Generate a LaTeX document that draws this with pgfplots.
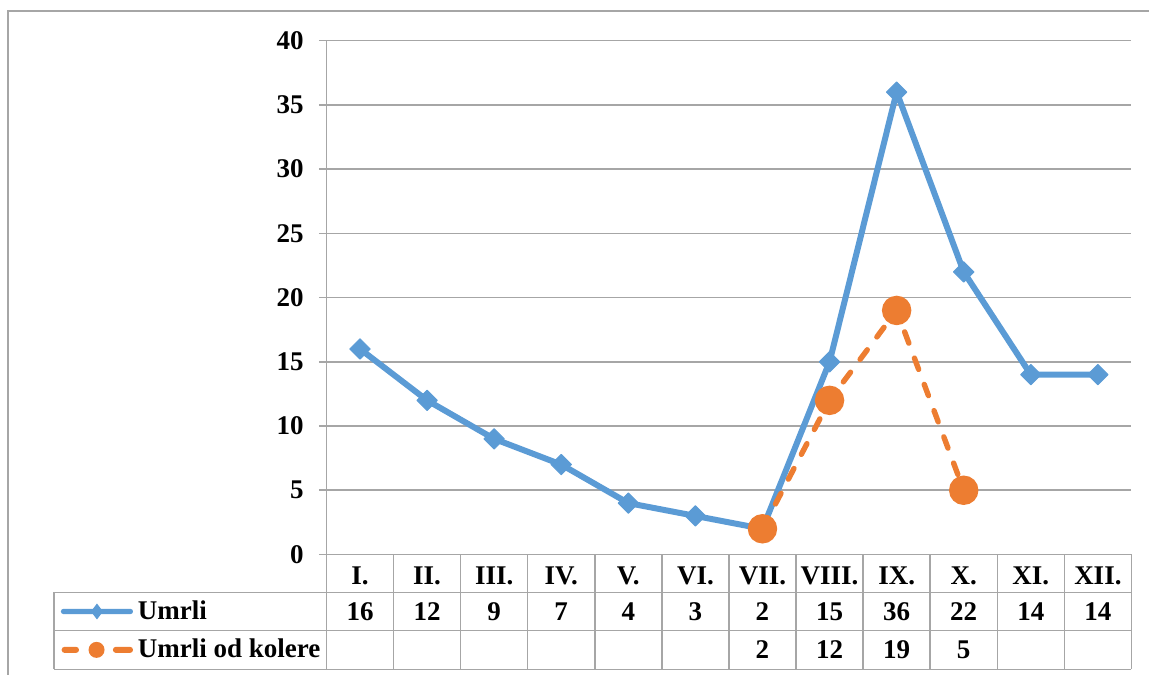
\documentclass[border=0pt]{standalone}
\usepackage{pgfplots}
\pgfplotsset{compat=1.18}
\usepackage{fontspec}
\setmainfont{Liberation Serif}
\definecolor{xlblue}{HTML}{5B9BD5}
\definecolor{xlorange}{HTML}{ED7D31}
\definecolor{xlgrid}{HTML}{A6A6A6}

\begin{document}
\begin{tikzpicture}[font=\fontsize{13.5}{16}\selectfont\bfseries]
  \begin{axis}[
      scale only axis,
      width=402.5pt, height=256.9pt,
      xmin=-0.5, xmax=11.5,
      ymin=0, ymax=40,
      clip=false,
      axis x line*=bottom, axis y line*=left,
      axis line style={xlgrid, line width=0.75pt},
      xtick={0,...,11},
      xticklabels={I.,II.,III.,IV.,V.,VI.,VII.,VIII.,IX.,X.,XI.,XII.},
      xtick style={draw=none},
      xticklabel style={anchor=center, inner sep=0pt, yshift=-7pt},
      ytick={0,5,...,40},
      tick align=outside,
      major tick length=3.75pt,
      ytick style={xlgrid, line width=0.75pt},
      yticklabel style={anchor=east, inner sep=0pt, xshift=-7.5pt},
      ymajorgrids=true,
      grid style={xlgrid, line width=0.75pt},
      /pgf/number format/assume math mode=true,
      legend style={at={(axis cs:-4.47,-2.943)}, anchor=north west,
        draw=none, fill=none, inner sep=0pt, outer sep=0pt,
        row sep=0pt, column sep=2.5pt,
        nodes={inner sep=0pt, minimum height=19.2pt}},
      legend cell align=left,
    ]

    \addplot[color=xlblue, line width=3pt, line join=round,
      mark=square*, mark size=3.6pt, mark options={rotate=45, line width=0.5pt},
      legend image code/.code={
        \path[draw=none] (0pt,0pt);
        \path[fill=xlblue, draw=none, solid, rounded corners=1.2pt] (0.4pt,-1.3pt) rectangle (36.4pt,1.3pt);
        \path[fill=xlblue, draw=none, solid] (18.4pt,0pt) +(0,4pt) -- +(3pt,0) -- +(0,-4pt) -- +(-3pt,0) -- cycle;
      }] coordinates {
      (0,16) (1,12) (2,9) (3,7) (4,4) (5,3) (6,2) (7,15) (8,36) (9,22) (10,14) (11,14)
    };
    \addlegendentry{Umrli}

    \addplot[color=xlorange, line width=2.7pt, line cap=round,
      dash pattern=on 6pt off 8pt,
      mark=*, mark size=6pt, mark options={solid},
      legend image code/.code={
        \path[draw=none] (0pt,0pt);
        \path[fill=xlorange, draw=none, solid, rounded corners=1.4pt] (0.75pt,-1.5pt) rectangle (9.4pt,1.5pt);
        \path[fill=xlorange, draw=none, solid, rounded corners=1.4pt] (26.4pt,-1.5pt) rectangle (36.4pt,1.5pt);
        \path[fill=xlorange, draw=none, solid] (18.2pt,0pt) circle (4pt);
      }] coordinates {
      (6,2) (7,12) (8,19) (9,5)
    };
    \addlegendentry{Umrli od kolere}

    % data table below the chart
    \draw[xlgrid, line width=0.75pt]
      (axis cs:-4.562,-2.943) -- (axis cs:11.5,-2.943)
      (axis cs:-4.562,-5.932) -- (axis cs:11.5,-5.932)
      (axis cs:-4.562,-8.937) -- (axis cs:11.5,-8.937)
      (axis cs:-4.562,-2.943) -- (axis cs:-4.562,-8.937);
    \foreach \k in {-0.5,0.5,...,11.5} {
      \edef\tmp{\noexpand\draw[xlgrid, line width=0.75pt] (axis cs:\k,0) -- (axis cs:\k,-8.937);}\tmp
    }
    \foreach \v [count=\i from 0] in {16,12,9,7,4,3,2,15,36,22,14,14} {
      \edef\tmp{\noexpand\node[inner sep=0pt] at (axis cs:\i,-4.437) {\v};}\tmp
    }
    \foreach \i/\v in {6/2,7/12,8/19,9/5} {
      \edef\tmp{\noexpand\node[inner sep=0pt] at (axis cs:\i,-7.435) {\v};}\tmp
    }

    % outer chart border
    \draw[xlgrid, line width=0.6pt] (axis cs:-5.248,-9.8) -- (axis cs:-5.248,42.31) -- (axis cs:12.2,42.31);

    \coordinate (bbsw) at (axis cs:-5.367,-9.381);
    \coordinate (bbne) at (axis cs:11.762,43.17);
  \end{axis}
  \pgfresetboundingbox
  \path[use as bounding box] (bbsw) rectangle (bbne);
\end{tikzpicture}
\end{document}
